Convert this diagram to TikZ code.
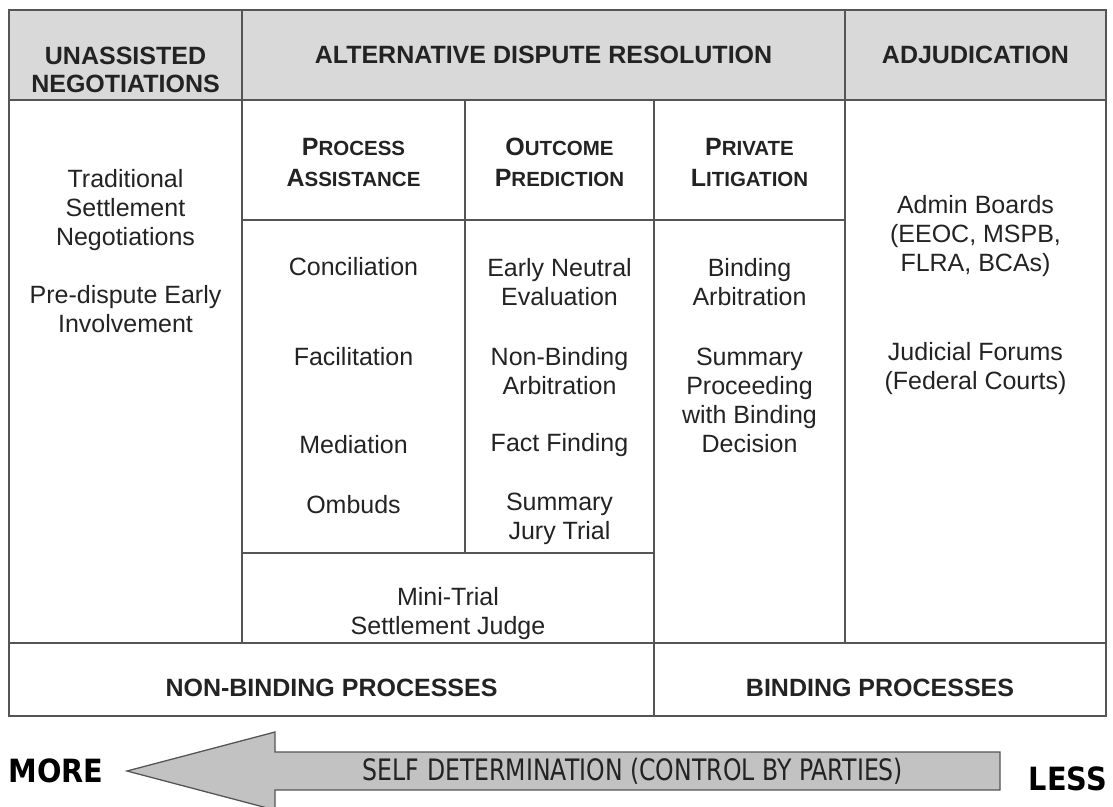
\documentclass[tikz,border=0pt]{standalone}
\usepackage{fontspec}
\setmainfont{Liberation Sans}
\newfontfamily\arrowfont{DejaVu Sans}[FakeStretch=0.8]
\newfontfamily\endfont{DejaVu Sans}[FakeStretch=0.9]
\definecolor{headgray}{RGB}{217,217,217}
\definecolor{arrowgray}{RGB}{194,194,194}
\definecolor{rulegray}{RGB}{85,85,85}
\definecolor{inkgray}{RGB}{35,35,35}
% small caps faked from two sizes
\newcommand{\capword}[2]{#1{\fontsize{20.5}{31}\selectfont #2}}

\tikzset{
  body/.style={align=center, text=inkgray, inner sep=0pt, font=\fontsize{25}{29}\selectfont},
  head/.style={align=center, text=inkgray, inner sep=0pt, font=\fontsize{25}{27.5}\selectfont\bfseries},
  subhead/.style={align=center, text=inkgray, inner sep=0pt, font=\fontsize{25}{31}\selectfont\bfseries},
  rule/.style={draw=rulegray, line width=1.3pt},
}

\begin{document}
\begin{tikzpicture}[x=1pt, y=-1pt]
    \useasboundingbox (0,0) rectangle (1113,806);

    % Header band
    \fill[headgray] (9,10) rectangle (1106,100);

    % Table rules
    \draw[rule] (9,10) rectangle (1106,716);
    \draw[rule] (9,100) -- (1106,100);
    \draw[rule] (9,643) -- (1106,643);
    \foreach \x in {242, 845}
        \draw[rule] (\x,10) -- (\x,643);
    \draw[rule] (465,100) -- (465,553);
    \draw[rule] (654,100) -- (654,716);
    \draw[rule] (242,220) -- (845,220);
    \draw[rule] (242,553) -- (654,553);

    % Column headers
    \node[head] (unassisted) at (125.5,70) {UNASSISTED\\NEGOTIATIONS};
    \node[head] (adr) at (543.5,55) {ALTERNATIVE DISPUTE RESOLUTION};
    \node[head] (adjudication) at (975.5,55) {ADJUDICATION};

    % Sub-headers of the ADR column
    \node[subhead] (process) at (353.5,162) {\capword{P}{ROCESS}\\\capword{A}{SSISTANCE}};
    \node[subhead] (outcome) at (559.5,162) {\capword{O}{UTCOME}\\\capword{P}{REDICTION}};
    \node[subhead] (private) at (749.5,162) {\capword{P}{RIVATE}\\\capword{L}{ITIGATION}};

    % Unassisted negotiations
    \node[body] (traditional) at (125.5,251)
        {Traditional\\Settlement\\Negotiations\\[29pt]Pre-dispute Early\\Involvement};

    % Process assistance
    \foreach \y/\txt [count=\i] in {267/Conciliation, 357/Facilitation, 445/Mediation, 505/Ombuds}
        \node[body] (assist-\i) at (353.5,\y) {\txt};

    % Outcome prediction
    \node[body] (neutral) at (559.5,282) {Early Neutral\\Evaluation};
    \node[body] (nonbinding) at (559.5,371) {Non-Binding\\Arbitration};
    \node[body] (factfinding) at (559.5,445) {Fact Finding};
    \node[body] (jurytrial) at (559.5,519) {Summary\\Jury Trial};

    % Private litigation
    \node[body] (binding) at (749.5,282) {Binding\\Arbitration};
    \node[body] (proceeding) at (749.5,400) {Summary\\Proceeding\\with Binding\\Decision};

    % Adjudication
    \node[body] (boards) at (975.5,236) {Admin Boards\\(EEOC, MSPB,\\FLRA, BCAs)};
    \node[body] (forums) at (975.5,369) {Judicial Forums\\(Federal Courts)};

    % Shared cell
    \node[body] (minitrial) at (448,614) {Mini-Trial\\Settlement Judge};

    % Bottom row
    \node[head] (nonbindproc) at (331.5,688) {NON-BINDING PROCESSES};
    \node[head] (bindproc) at (880,688) {BINDING PROCESSES};

    % Self determination arrow
    \draw[fill=arrowgray, draw=rulegray, line width=1.3pt]
        (127,771) -- (275,732) -- (275,752) -- (1000,752) -- (1000,790)
        -- (275,790) -- (275,810) -- cycle;
    \node[text=inkgray, inner sep=0pt, font=\arrowfont\fontsize{29.5}{32}\selectfont]
        (selfdet) at (633,771) {SELF DETERMINATION (CONTROL BY PARTIES)};
    \node[text=black, inner sep=0pt, font=\endfont\fontsize{32}{34}\selectfont\bfseries]
        (more) at (56,771) {MORE};
    \node[text=black, inner sep=0pt, font=\endfont\fontsize{32}{34}\selectfont\bfseries]
        (less) at (1068,779) {LESS};
\end{tikzpicture}
\end{document}
